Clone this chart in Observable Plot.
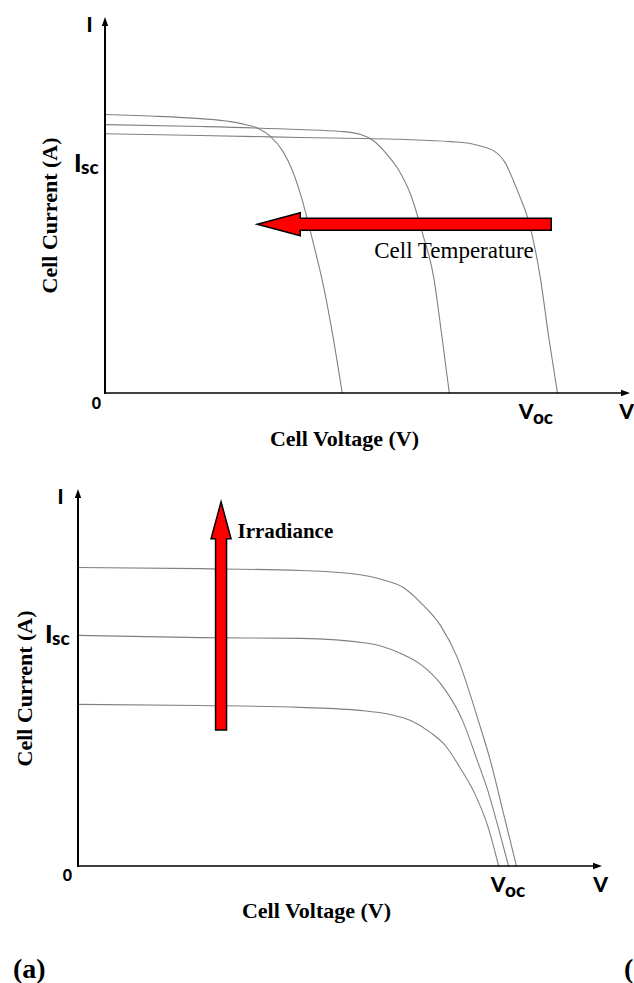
<!DOCTYPE html>
<html><head><meta charset="utf-8">
<script src="https://cdn.jsdelivr.net/npm/d3@7"></script>
<script src="https://cdn.jsdelivr.net/npm/@observablehq/plot@0.6"></script>
<style>
html,body{margin:0;padding:0;background:#fff;}
#wrap{position:relative;width:634px;height:983px;overflow:hidden;background:#fff;}
#top,#bottom{position:absolute;left:0;}
#top{top:0}
#bottom{top:460px}
.panel{position:absolute;top:955px;font:bold 28px "Liberation Serif",serif;line-height:1;color:#000;}
</style></head><body>
<div id="wrap"><div id="top"></div><div id="bottom"></div>
<span class="panel" style="left:13px">(a)</span><span class="panel" style="left:624px">(</span></div>
<script>
// ---------- data (arbitrary units, 0..100 on both axes) ----------
const xMax = 100, yMax = 100;

// Top panel: three cell temperatures
const hotV  = [0, 8.6, 18.1, 23.8, 26.7, 29.1, 31.4, 33.7, 35.6, 37.5, 39.6, 41.5, 43.4, 45.1];
const hotI  = [74.2, 73.8, 73.1, 72.3, 71.5, 70.5, 68.4, 64.6, 59.3, 51.3, 39.9, 28.7, 14.6, 0];
const warmV = [0, 18.1, 37.1, 44.8, 48.6, 51.0, 53.3, 55.8, 58.1, 60.4, 62.5, 64.0, 65.5];
const warmI = [71.5, 71.0, 70.2, 69.7, 68.9, 67.3, 64.1, 59.5, 53.0, 42.5, 31.0, 16.0, 0];
const coolV = [0, 18.1, 37.1, 56.2, 65.7, 69.5, 72.4, 73.9, 76.2, 77.7, 79.0, 80.4, 82.9, 84.4, 86.1];
const coolI = [69.1, 68.6, 68.1, 67.6, 67.0, 66.5, 65.4, 64.6, 61.2, 56.6, 52.1, 46.8, 30.1, 15.2, 0];

// Bottom panel: three irradiance levels
const highV = [0, 23.3, 42.4, 51.9, 58.2, 62.0, 65.3, 69.1, 72.3, 76.3, 78.6, 81.1, 83.6];
const highI = [79.3, 79.0, 78.5, 77.7, 76.0, 74.0, 70.0, 63.9, 55.4, 38.7, 28.1, 14.1, 0];
const medV  = [0, 23.3, 42.4, 55.2, 61.5, 65.6, 69.1, 73.3, 76.1, 78.1, 80.0, 82.1];
const medI  = [61.3, 60.7, 60.5, 59.2, 56.5, 53.3, 48.5, 38.7, 28.1, 20.2, 10.9, 0];
const lowV  = [0, 23.3, 42.4, 53.8, 59.5, 63.4, 67.2, 70.0, 72.9, 75.6, 78.2, 80.2];
const lowI  = [43.0, 42.7, 42.2, 41.4, 40.3, 38.7, 35.5, 32.1, 26.0, 19.4, 10.3, 0];

// marked values on the axes
const iscTop = 60.6, vocTop = 81.5;
const iscBottom = 61.5, vocBottom = 81.5;

// trend arrows
const tempArrow = [{x1: 85.0, y1: 44.9, x2: 29.0, y2: 44.9}];
const irrArrow  = [{x1: 27.3, y1: 36.1, x2: 27.3, y2: 96.6}];

// texts
const axisLabelY = "Cell Current (A)";
const axisLabelX = "Cell Voltage (V)";
const currentSym = ["I", "sc"];
const voltageSym = ["V", "oc"];
const tempLabel = "Cell Temperature";
const irrLabel = "Irradiance";

// ---------- helpers ----------
function table(series) {
  return series.flatMap(([name, V, I]) => V.map((v, k) => ({curve: name, v, i: I[k]})));
}
const SANS = "Lato, 'Open Sans', 'DejaVu Sans', sans-serif";
const SERIF = "'Liberation Serif', 'Times New Roman', serif";
const CURVE = "#808080";

function blockArrow({shaft, head, headLength}) {
  return (index, scales, values) => {
    const g = d3.create("svg:g");
    for (const k of index) {
      const x1 = values.x1[k], y1 = values.y1[k], x2 = values.x2[k], y2 = values.y2[k];
      const len = Math.hypot(x2 - x1, y2 - y1), ux = (x2 - x1) / len, uy = (y2 - y1) / len;
      const nx = -uy, ny = ux;
      const bx = x2 - ux * headLength, by = y2 - uy * headLength;
      const p = [[x1 + nx * shaft, y1 + ny * shaft], [bx + nx * shaft, by + ny * shaft],
                 [bx + nx * head, by + ny * head], [x2, y2], [bx - nx * head, by - ny * head],
                 [bx - nx * shaft, by - ny * shaft], [x1 - nx * shaft, y1 - ny * shaft]];
      g.append("path").attr("d", "M" + p.map(q => q.join(",")).join("L") + "Z")
        .attr("fill", "#ff0000").attr("stroke", "#000").attr("stroke-width", 1.5)
        .attr("stroke-linejoin", "miter");
    }
    return g.node();
  };
}
function axisArrow({width, headLength = 9, head = 3.2, overshoot = 1}) {
  return (index, scales, values) => {
    const g = d3.create("svg:g");
    for (const k of index) {
      const x1 = values.x1[k], y1 = values.y1[k], x2 = values.x2[k], y2 = values.y2[k];
      const len = Math.hypot(x2 - x1, y2 - y1), ux = (x2 - x1) / len, uy = (y2 - y1) / len;
      const nx = -uy, ny = ux;
      const bx = x2 - ux * headLength, by = y2 - uy * headLength;
      g.append("line").attr("x1", x1 - ux * overshoot).attr("y1", y1 - uy * overshoot)
        .attr("x2", bx + ux).attr("y2", by + uy).attr("stroke", "#000").attr("stroke-width", width);
      g.append("path").attr("d", `M${x2},${y2}L${bx + nx * head},${by + ny * head}L${bx - nx * head},${by - ny * head}Z`)
        .attr("fill", "#000");
    }
    return g.node();
  };
}

function panel({series, isc, voc, m, o, extras}) {
  const data = table(series);
  const origin = [{v: 0, i: 0}];
  const yTop = [{v: 0, i: yMax}];
  const xEnd = [{v: xMax, i: 0}];
  const iscAt = [{v: 0, i: isc}];
  const vocAt = [{v: voc, i: 0}];
  const sans = (size) => ({fontFamily: SANS, fontWeight: 900, fontSize: size, fill: "#000"});
  const serifB = {fontFamily: SERIF, fontWeight: "bold", fontSize: 22, fill: "#000", textAnchor: "middle", lineAnchor: "middle"};
  return Plot.plot({
    width: 634, height: m.height,
    marginLeft: m.left, marginRight: m.right, marginTop: m.top, marginBottom: m.bottom,
    x: {domain: [0, xMax], axis: null},
    y: {domain: [0, yMax], axis: null},
    style: {overflow: "visible", background: "transparent"},
    marks: [
      Plot.line(data, {x: "v", y: "i", z: "curve", stroke: CURVE, strokeWidth: 1.1, curve: "monotone-x"}),
      Plot.link([{x1: 0, y1: 0, x2: xMax, y2: 0}], {x1: "x1", y1: "y1", x2: "x2", y2: "y2", render: axisArrow({width: 1.6})}),
      Plot.link([{x1: 0, y1: 0, x2: 0, y2: yMax}], {x1: "x1", y1: "y1", x2: "x2", y2: "y2", render: axisArrow({width: 2})}),
      Plot.text(yTop, {x: "v", y: "i", text: () => "I", ...sans(20), dx: o.I[0], dy: o.I[1]}),
      Plot.text(xEnd, {x: "v", y: "i", text: () => "V", ...sans(21), dx: o.V[0], dy: o.V[1]}),
      Plot.text(origin, {x: "v", y: "i", text: () => "0", ...sans(16), dx: o.zero[0], dy: o.zero[1]}),
      Plot.text(iscAt, {x: "v", y: "i", text: () => currentSym[0], ...sans(25), textAnchor: "end", dx: o.isc[0], dy: o.isc[1]}),
      Plot.text(iscAt, {x: "v", y: "i", text: () => currentSym[1], ...sans(19), textAnchor: "start", dx: o.isc[0] - 0.5, dy: o.isc[1] + 4}),
      Plot.text(vocAt, {x: "v", y: "i", text: () => voltageSym[0], ...sans(21), textAnchor: "end", dx: o.voc[0], dy: o.voc[1]}),
      Plot.text(vocAt, {x: "v", y: "i", text: () => voltageSym[1], ...sans(19), textAnchor: "start", dx: o.voc[0] - 0.5, dy: o.voc[1] + 5}),
      Plot.text([axisLabelY], {frameAnchor: "left", rotate: -90, ...serifB, dx: o.ylab[0], dy: o.ylab[1]}),
      Plot.text([axisLabelX], {frameAnchor: "bottom", ...serifB, dx: o.xlab[0], dy: o.xlab[1]}),
      ...extras
    ]
  });
}

// ---------- top: temperature ----------
const topPlot = panel({
  series: [["hot", hotV, hotI], ["warm", warmV, warmI], ["cool", coolV, coolI]],
  isc: iscTop, voc: vocTop,
  m: {height: 460, left: 105, right: 4, top: 17, bottom: 67},
  o: {I: [-16, 8], V: [-4, 19], zero: [-9, 10], isc: [-24, -2], voc: [0, 19], ylab: [-56, 10], xlab: [-23.5, 45]},
  extras: [
    Plot.link(tempArrow, {x1: "x1", y1: "y1", x2: "x2", y2: "y2", render: blockArrow({shaft: 6, head: 11.5, headLength: 43})}),
    Plot.text(tempArrow, {x: "x1", y: "y1", text: () => tempLabel, textAnchor: "end", fontFamily: SERIF, fontSize: 23, fill: "#000", dx: -18, dy: 26})
  ]
});
document.getElementById("top").appendChild(topPlot);

// ---------- bottom: irradiance ----------
const bottomPlot = panel({
  series: [["high", highV, highI], ["medium", medV, medI], ["low", lowV, lowI]],
  isc: iscBottom, voc: vocBottom,
  m: {height: 523, left: 78, right: 32, top: 29, bottom: 117},
  o: {I: [-18, 8], V: [-2, 19], zero: [-11, 9], isc: [-26, 0], voc: [0, 19], ylab: [-54, 10.5], xlab: [-24, 44]},
  extras: [
    Plot.link(irrArrow, {x1: "x1", y1: "y1", x2: "x2", y2: "y2", render: blockArrow({shaft: 5.5, head: 10, headLength: 37})}),
    Plot.text(irrArrow, {x: "x2", y: "y2", text: () => irrLabel, textAnchor: "start", fontFamily: SERIF, fontWeight: "bold", fontSize: 21, fill: "#000", dx: 16, dy: 29})
  ]
});
document.getElementById("bottom").appendChild(bottomPlot);
</script>
</body></html>
